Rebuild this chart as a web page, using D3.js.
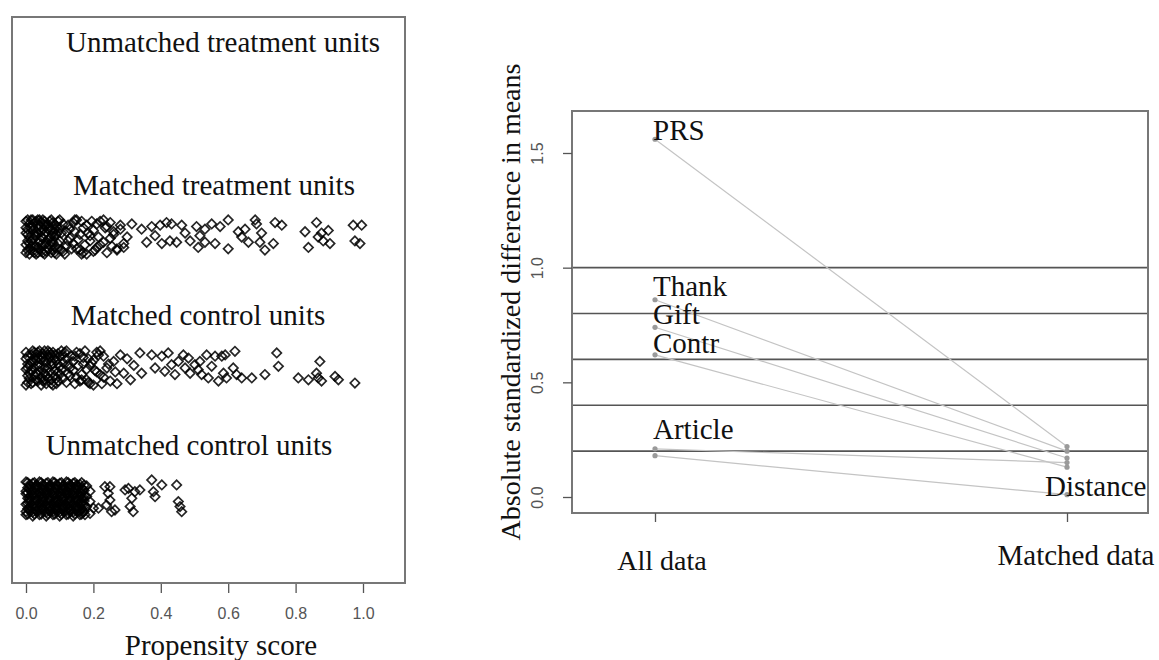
<!DOCTYPE html>
<html>
<head>
<meta charset="utf-8">
<script src="https://cdn.jsdelivr.net/npm/d3@7"></script>
<style>
  body { margin: 0; background: #fff; }
  text { font-family: "Liberation Serif", "Times New Roman", serif; fill: #111; }
  .tick-lab { font-family: "Liberation Sans", Arial, sans-serif; fill: #555; }
</style>
</head>
<body>
<div id="container"></div>
<script>
// ---- left panel: propensity score jitter plot ----
// group labels, top to bottom (row 4 .. row 1)
var groupNames = ["Unmatched treatment units", "Matched treatment units", "Matched control units", "Unmatched control units"];
var groupRows = [4, 3, 2, 1];
var scoreTicks = [0, 0.2, 0.4, 0.6, 0.8, 1.0];

// [propensity score, vertical jitter]
var unmatchedTreat = [];

var matchedTreat = [
  [0.00,0.12],[0.01,-0.05],[0.02,0.08],[0.00,-0.12],[0.03,0.01],[0.01,0.10],[0.04,-0.09],[0.02,-0.02],
  [0.05,0.13],[0.03,-0.13],[0.06,0.04],[0.00,0.03],[0.04,0.09],[0.07,-0.06],[0.01,-0.09],[0.05,-0.01],
  [0.08,0.11],[0.02,0.05],[0.06,-0.11],[0.09,0.02],[0.03,0.12],[0.07,0.07],[0.00,-0.06],[0.04,-0.04],
  [0.08,-0.10],[0.05,0.06],[0.10,-0.03],[0.01,0.00],[0.06,0.09],[0.09,-0.13],[0.02,-0.11],[0.07,-0.01],
  [0.11,0.10],[0.03,0.04],[0.08,0.03],[0.05,-0.12],[0.10,0.13],[0.00,0.07],[0.04,0.13],[0.12,-0.07],
  [0.06,-0.05],[0.09,0.08],[0.02,0.13],[0.11,-0.11],[0.07,0.12],[0.03,-0.07],[0.12,0.04],[0.08,-0.04],
  [0.01,-0.13],[0.10,0.07],
  [0.005,0.02],[0.025,0.01],[0.045,-0.06],[0.065,0.06],[0.085,-0.12],[0.015,0.07],[0.035,-0.12],[0.055,0.09],
  [0.075,-0.04],[0.095,0.04],[0.005,0.13],[0.025,-0.12],[0.045,0.00],[0.065,-0.09],[0.085,0.10],[0.015,-0.07],
  [0.035,0.13],[0.055,-0.06],[0.075,0.06],[0.095,-0.09],[0.005,-0.03],[0.055,0.12],[0.035,0.03],[0.075,-0.12],
  [0.005,0.06],[0.015,-0.03],[0.025,0.11],[0.035,-0.08],[0.045,0.04],[0.055,-0.13],[0.065,0.10],[0.075,0.00],
  [0.085,-0.08],[0.095,0.12],[0.015,0.13],[0.025,-0.07],[0.035,0.07],[0.045,-0.11],[0.055,0.02],[0.065,-0.02],
  [0.075,0.13],[0.085,0.06],[0.095,-0.05],[0.105,0.03],[0.115,-0.13],[0.125,0.09],[0.135,-0.09],[0.145,0.04],
  [0.155,-0.02],[0.165,0.12],[0.175,-0.06],[0.185,0.03],[0.195,0.12],[0.205,-0.10],[0.005,-0.10],[0.045,0.11],
  [0.085,0.00],[0.125,-0.03],[0.165,-0.13],[0.105,-0.10],[0.145,0.13],[0.215,0.00],[0.235,0.07],[0.255,-0.07],
  [0.13,-0.01],[0.14,0.11],[0.15,-0.09],[0.13,0.06],[0.16,0.02],[0.17,-0.12],[0.14,-0.05],[0.18,0.09],
  [0.15,0.13],[0.19,-0.03],[0.16,-0.10],[0.20,0.05],[0.17,0.07],[0.21,-0.08],[0.18,-0.13],[0.22,0.12],
  [0.19,0.01],[0.23,-0.04],[0.20,-0.11],[0.24,0.08],[0.21,0.10],[0.25,-0.01],[0.22,-0.06],[0.26,0.04],
  [0.23,0.13],[0.27,-0.09],[0.24,-0.12],[0.28,0.06],[0.25,0.11],[0.29,-0.05],[0.26,0.02],[0.27,-0.10],
  [0.28,0.09],[0.30,0.00],[0.29,-0.08],
  [0.314,0.10],[0.343,0.06],[0.358,-0.04],[0.373,0.08],[0.383,0.01],[0.398,0.09],[0.403,-0.05],
  [0.417,0.11],[0.427,-0.03],[0.432,0.10],[0.447,-0.04],[0.462,0.09],[0.472,0.03],[0.487,-0.03],
  [0.506,0.08],[0.516,0.01],[0.511,-0.08],[0.531,0.06],[0.531,-0.04],[0.551,0.10],[0.561,-0.05],
  [0.576,0.08],[0.600,0.13],[0.600,-0.09],[0.630,0.04],[0.640,0.00],[0.650,0.06],[0.660,-0.04],
  [0.680,0.13],[0.684,0.10],[0.699,0.03],[0.694,-0.04],[0.709,-0.10],[0.734,-0.05],[0.739,0.11],
  [0.759,0.09],[0.828,0.04],[0.838,-0.08],[0.862,0.11],[0.867,0.00],[0.877,0.03],[0.882,-0.03],
  [0.897,0.05],[0.902,-0.05],[0.971,0.09],[0.976,-0.03],[0.991,-0.05],[0.996,0.09]
];

var matchedControl = [
  [0.00,0.12],[0.02,0.05],[0.01,-0.08],[0.03,0.11],[0.04,-0.02],[0.00,-0.13],[0.05,0.08],[0.02,-0.11],
  [0.06,-0.06],[0.01,0.02],[0.07,0.12],[0.03,-0.04],[0.08,0.03],[0.04,0.13],[0.05,-0.10],[0.09,-0.12],
  [0.00,0.07],[0.06,0.04],[0.10,0.09],[0.02,0.13],[0.07,-0.03],[0.11,-0.08],[0.03,0.06],[0.08,-0.13],
  [0.12,0.13],[0.04,0.01],[0.09,0.06],[0.01,-0.04],[0.10,-0.05],[0.05,0.11],[0.13,0.00],[0.06,-0.12],
  [0.11,0.10],[0.00,-0.01],[0.07,0.08],[0.12,-0.11],[0.08,0.12],[0.14,0.05],[0.09,-0.08],[0.03,-0.09],
  [0.005,0.09],[0.025,0.00],[0.045,0.06],[0.065,-0.08],[0.085,0.07],[0.015,-0.02],[0.035,0.12],[0.055,-0.09],
  [0.075,0.02],[0.095,0.11],[0.005,-0.11],[0.025,0.12],[0.045,-0.07],[0.065,0.10],[0.085,-0.06],[0.015,0.05],
  [0.035,-0.05],[0.055,0.13],[0.075,-0.12],[0.095,-0.03],[0.005,0.00],[0.055,0.00],[0.035,0.08],[0.075,0.10],
  [0.005,0.03],[0.015,0.10],[0.025,-0.06],[0.035,0.02],[0.045,-0.13],[0.055,0.06],[0.065,0.13],[0.075,-0.09],
  [0.085,-0.02],[0.095,0.03],[0.015,-0.12],[0.025,0.08],[0.035,-0.10],[0.045,0.09],[0.055,-0.04],[0.065,0.00],
  [0.075,0.05],[0.085,0.10],[0.095,-0.10],[0.105,-0.01],[0.115,0.12],[0.125,-0.04],[0.135,0.09],[0.145,-0.12],
  [0.155,0.02],[0.165,-0.05],[0.175,0.13],[0.185,-0.11],[0.195,0.04],[0.205,-0.02],[0.005,-0.06],[0.105,0.13],
  [0.125,0.03],[0.145,0.09],[0.165,-0.09],[0.185,0.07],[0.215,0.10],[0.225,-0.12],[0.245,0.03],[0.265,-0.03],
  [0.13,-0.06],[0.15,0.12],[0.10,0.01],[0.16,-0.10],[0.14,-0.02],[0.11,0.04],[0.17,0.08],[0.15,-0.07],
  [0.12,0.07],[0.18,-0.01],[0.16,0.11],[0.19,-0.12],[0.17,0.03],[0.20,0.06],[0.18,-0.09],[0.21,0.12],
  [0.19,0.02],[0.22,-0.05],[0.20,-0.13],[0.23,0.09],[0.21,-0.03],[0.24,0.00],[0.22,0.13],[0.25,-0.10],
  [0.23,-0.07],[0.26,0.05],[0.27,-0.12],[0.28,0.10],[0.29,-0.04],[0.30,0.07],[0.31,-0.09],[0.32,0.02],
  [0.338,0.115],[0.343,-0.04],[0.373,0.10],[0.383,0.00],[0.403,0.09],[0.412,-0.025],[0.422,0.115],
  [0.432,0.025],[0.442,-0.05],[0.452,0.05],[0.467,0.10],[0.472,0.00],[0.482,0.076],[0.487,-0.04],
  [0.501,0.025],[0.511,-0.013],[0.516,0.05],[0.521,-0.05],[0.536,0.10],[0.541,-0.076],[0.551,0.013],
  [0.561,0.09],[0.571,-0.10],[0.581,0.09],[0.586,-0.04],[0.591,0.10],[0.595,-0.076],[0.615,0.00],
  [0.620,0.127],[0.625,-0.05],[0.640,-0.076],[0.670,-0.076],[0.709,-0.05],[0.744,0.115],[0.749,0.013],
  [0.808,-0.076],[0.838,-0.09],[0.862,-0.04],[0.867,-0.076],[0.872,0.05],[0.877,-0.10],[0.917,-0.064],
  [0.927,-0.09],[0.976,-0.115]
];

var unmatchedControl = [
  [0.00,0.13],[0.02,0.12],[0.04,0.13],[0.06,0.12],[0.08,0.13],[0.10,0.12],[0.12,0.13],[0.14,0.12],[0.16,0.11],
  [0.01,0.08],[0.03,0.09],[0.05,0.07],[0.07,0.09],[0.09,0.08],[0.11,0.07],[0.13,0.09],[0.15,0.08],[0.17,0.07],
  [0.00,0.04],[0.02,0.03],[0.04,0.05],[0.06,0.04],[0.08,0.03],[0.10,0.05],[0.12,0.04],[0.14,0.03],[0.16,0.05],[0.18,0.02],
  [0.01,0.00],[0.03,-0.01],[0.05,0.01],[0.07,0.00],[0.09,-0.01],[0.11,0.01],[0.13,0.00],[0.15,-0.01],[0.17,0.01],
  [0.00,-0.04],[0.02,-0.05],[0.04,-0.03],[0.06,-0.05],[0.08,-0.04],[0.10,-0.03],[0.12,-0.05],[0.14,-0.04],[0.16,-0.03],[0.18,-0.06],
  [0.01,-0.08],[0.03,-0.09],[0.05,-0.07],[0.07,-0.09],[0.09,-0.08],[0.11,-0.07],[0.13,-0.09],[0.15,-0.08],[0.17,-0.10],
  [0.00,-0.12],[0.02,-0.13],[0.04,-0.12],[0.06,-0.13],[0.08,-0.12],[0.10,-0.13],[0.12,-0.12],[0.14,-0.13],[0.16,-0.12],
  [0.01,0.11],[0.03,0.105],[0.05,0.11],[0.07,0.10],[0.09,0.11],[0.11,0.10],[0.13,0.11],[0.15,0.105],
  [0.00,0.06],[0.02,0.065],[0.04,0.02],[0.06,0.065],[0.08,0.06],[0.10,0.02],[0.12,0.065],[0.14,0.06],[0.16,0.02],
  [0.01,-0.025],[0.03,-0.06],[0.05,-0.02],[0.07,-0.06],[0.09,-0.025],[0.11,-0.055],[0.13,-0.02],[0.15,-0.06],[0.17,-0.04],
  [0.00,-0.095],[0.02,-0.10],[0.04,-0.09],[0.06,-0.10],[0.08,-0.095],[0.10,-0.10],[0.12,-0.09],[0.14,-0.10],[0.16,-0.095],
  [0.005,0.125],[0.025,0.125],[0.045,0.125],[0.065,0.125],[0.085,0.125],[0.105,0.125],[0.125,0.125],[0.145,0.125],[0.165,0.125],
  [0.005,0.085],[0.025,0.085],[0.045,0.085],[0.065,0.085],[0.085,0.085],[0.105,0.085],[0.125,0.085],[0.145,0.085],[0.165,0.085],
  [0.005,0.045],[0.025,0.045],[0.045,0.045],[0.065,0.045],[0.085,0.045],[0.105,0.045],[0.125,0.045],[0.145,0.045],[0.165,0.045],
  [0.005,0.005],[0.025,0.005],[0.045,0.005],[0.065,0.005],[0.085,0.005],[0.105,0.005],[0.125,0.005],[0.145,0.005],[0.165,0.005],
  [0.005,-0.035],[0.025,-0.035],[0.045,-0.035],[0.065,-0.035],[0.085,-0.035],[0.105,-0.035],[0.125,-0.035],[0.145,-0.035],[0.165,-0.035],
  [0.005,-0.075],[0.025,-0.075],[0.045,-0.075],[0.065,-0.075],[0.085,-0.075],[0.105,-0.075],[0.125,-0.075],[0.145,-0.075],[0.165,-0.075],
  [0.005,-0.115],[0.025,-0.115],[0.045,-0.115],[0.065,-0.115],[0.085,-0.115],[0.105,-0.115],[0.125,-0.115],[0.145,-0.115],[0.165,-0.115],
  [0.0125,0.105],[0.0325,0.105],[0.0525,0.105],[0.0725,0.105],[0.0925,0.105],[0.1125,0.105],[0.1325,0.105],[0.1525,0.105],[0.1725,0.105],
  [0.0125,0.065],[0.0325,0.065],[0.0525,0.065],[0.0725,0.065],[0.0925,0.065],[0.1125,0.065],[0.1325,0.065],[0.1525,0.065],[0.1725,0.065],
  [0.0125,0.025],[0.0325,0.025],[0.0525,0.025],[0.0725,0.025],[0.0925,0.025],[0.1125,0.025],[0.1325,0.025],[0.1525,0.025],[0.1725,0.025],
  [0.0125,-0.015],[0.0325,-0.015],[0.0525,-0.015],[0.0725,-0.015],[0.0925,-0.015],[0.1125,-0.015],[0.1325,-0.015],[0.1525,-0.015],[0.1725,-0.015],
  [0.0125,-0.055],[0.0325,-0.055],[0.0525,-0.055],[0.0725,-0.055],[0.0925,-0.055],[0.1125,-0.055],[0.1325,-0.055],[0.1525,-0.055],[0.1725,-0.055],
  [0.0125,-0.095],[0.0325,-0.095],[0.0525,-0.095],[0.0725,-0.095],[0.0925,-0.095],[0.1125,-0.095],[0.1325,-0.095],[0.1525,-0.095],[0.1725,-0.095],
  [0.19,-0.11],[0.20,-0.07],[0.19,0.06],[0.215,-0.07],[0.18,0.10],[0.19,-0.02],[0.175,-0.12],
  [0.234,0.094],[0.244,0.043],[0.249,-0.008],[0.239,-0.046],[0.254,-0.097],[0.264,-0.084],[0.249,0.094],
  [0.294,0.069],[0.304,0.081],[0.314,0.005],[0.309,-0.058],[0.318,-0.097],[0.323,0.056],[0.338,0.069],
  [0.373,0.145],[0.378,0.056],[0.383,0.018],[0.403,0.107],[0.447,0.107],[0.452,-0.02],[0.457,-0.058],
  [0.462,-0.097]
];

var groupData = [unmatchedTreat, matchedTreat, matchedControl, unmatchedControl];

// ---- right panel: balance plot ----
var varNames = ["PRS", "Thank", "Gift", "Contr", "Article", "Distance"];
var allDiff = [1.56, 0.86, 0.74, 0.62, 0.21, 0.18];
var matchedDiff = [0.22, 0.20, 0.17, 0.13, 0.15, 0.01];
var refLines = [0.2, 0.4, 0.6, 0.8, 1.0];
var diffTicks = [0.0, 0.5, 1.0, 1.5];
var sampleNames = ["All data", "Matched data"];

var svg = d3.select('#container')
    .append('svg')
    .attr('width', 1159)
    .attr('height', 660);

// soft edge like the scanned original
svg.append('defs').append('filter')
    .attr('id', 'soft')
    .append('feGaussianBlur')
    .attr('stdDeviation', 0.7);

// left scales
var xScore = d3.scaleLinear().domain([0, 1]).range([26, 363]);
var yRow = d3.scaleLinear().domain([1, 4]).range([499, 106]);

svg.append('rect')
    .attr('x', 12).attr('y', 17)
    .attr('width', 405 - 12).attr('height', 583 - 17)
    .attr('fill', 'none')
    .attr('stroke', '#777')
    .attr('stroke-width', 2);

var diamond = d3.symbol().type(d3.symbolSquare).size(44);

groupData.forEach(function (pts, gi) {
    svg.append('g')
        .attr('filter', 'url(#soft)')
        .selectAll('path')
        .data(pts).enter()
        .append('path')
        .attr('d', diamond)
        .attr('transform', function (d) {
            return 'translate(' + xScore(d[0]) + ',' + yRow(groupRows[gi] + d[1]) + ') rotate(45)';
        })
        .attr('fill', 'none')
        .attr('stroke', '#000')
        .attr('stroke-opacity', 0.85)
        .attr('stroke-width', 1.7);
});

// group titles
var titleX = [223, 214, 198, 189];
var titleDy = [-54, -42, -43, -44];
groupNames.forEach(function (name, i) {
    svg.append('text')
        .attr('x', titleX[i])
        .attr('y', yRow(groupRows[i]) + titleDy[i])
        .attr('text-anchor', 'middle')
        .style('font-size', '29px')
        .text(name);
});

var xAxisL = d3.axisBottom(xScore).tickValues(scoreTicks).tickSize(9)
    .tickFormat(d3.format('.1f'));
var gxl = svg.append('g').attr('transform', 'translate(0,584)').call(xAxisL);
gxl.select('.domain').remove();
gxl.selectAll('line').attr('stroke', '#555').attr('stroke-width', 1.3);
gxl.selectAll('text').attr('class', 'tick-lab').attr('dy', 0).attr('y', 35)
    .style('font-size', '16px');

svg.append('text')
    .attr('x', 221).attr('y', 655)
    .attr('text-anchor', 'middle')
    .style('font-size', '29px')
    .text('Propensity score');

// right scales
var xSample = d3.scaleLinear().domain([1, 2]).range([655, 1067]);
var yDiff = d3.scaleLinear().domain([0, 1.5]).range([497, 153]);
var boxL = 572, boxR = 1148, boxT = 111, boxB = 513;

svg.append('g').selectAll('line')
    .data(refLines).enter()
    .append('line')
    .attr('x1', boxL).attr('x2', boxR)
    .attr('y1', function (d) { return yDiff(d); })
    .attr('y2', function (d) { return yDiff(d); })
    .attr('stroke', '#555')
    .attr('stroke-width', 1.6);

svg.append('g').selectAll('line')
    .data(varNames).enter()
    .append('line')
    .attr('x1', xSample(1)).attr('x2', xSample(2))
    .attr('y1', function (d, i) { return yDiff(allDiff[i]); })
    .attr('y2', function (d, i) { return yDiff(matchedDiff[i]); })
    .attr('stroke', '#c4c4c4')
    .attr('stroke-width', 1.2);

svg.append('g').selectAll('circle')
    .data(allDiff.concat(matchedDiff)).enter()
    .append('circle')
    .attr('cx', function (d, i) { return i < allDiff.length ? xSample(1) : xSample(2); })
    .attr('cy', function (d) { return yDiff(d); })
    .attr('r', 2.6)
    .attr('fill', '#9a9a9a');

svg.append('rect')
    .attr('x', boxL).attr('y', boxT)
    .attr('width', boxR - boxL).attr('height', boxB - boxT)
    .attr('fill', 'none')
    .attr('stroke', '#777')
    .attr('stroke-width', 2);

// variable labels (Distance sits on the matched side)
var labelDy = { PRS: 1, Thank: -4, Gift: -3, Contr: -2, Article: -10, Distance: 1 };
varNames.forEach(function (name, i) {
    var onMatched = name === 'Distance';
    svg.append('text')
        .attr('x', onMatched ? xSample(2) - 22 : xSample(1) - 2)
        .attr('y', yDiff(onMatched ? matchedDiff[i] : allDiff[i]) + labelDy[name])
        .style('font-size', '29px')
        .text(name);
});

var yAxisR = d3.axisLeft(yDiff).tickValues(diffTicks).tickSize(9)
    .tickFormat(d3.format('.1f'));
var gyr = svg.append('g').attr('transform', 'translate(' + boxL + ',0)').call(yAxisR);
gyr.select('.domain').remove();
gyr.selectAll('line').attr('stroke', '#555').attr('stroke-width', 1.3);
gyr.selectAll('text').attr('class', 'tick-lab')
    .attr('x', 0).attr('dy', 0)
    .attr('transform', 'translate(-29,0) rotate(-90)')
    .attr('text-anchor', 'middle')
    .style('font-size', '16px');

var xAxisR = d3.axisBottom(xSample).tickValues([1, 2]).tickSize(9).tickFormat('');
var gxr = svg.append('g').attr('transform', 'translate(0,' + boxB + ')').call(xAxisR);
gxr.select('.domain').remove();
gxr.selectAll('line').attr('stroke', '#555').attr('stroke-width', 1.3);

svg.append('text').attr('x', 662).attr('y', 570).attr('text-anchor', 'middle')
    .style('font-size', '28px').text(sampleNames[0]);
svg.append('text').attr('x', 1076).attr('y', 565).attr('text-anchor', 'middle')
    .style('font-size', '29px').text(sampleNames[1]);

svg.append('text')
    .attr('transform', 'translate(520,302) rotate(-90)')
    .attr('text-anchor', 'middle')
    .style('font-size', '28px')
    .text('Absolute standardized difference in means');
</script>
</body>
</html>
